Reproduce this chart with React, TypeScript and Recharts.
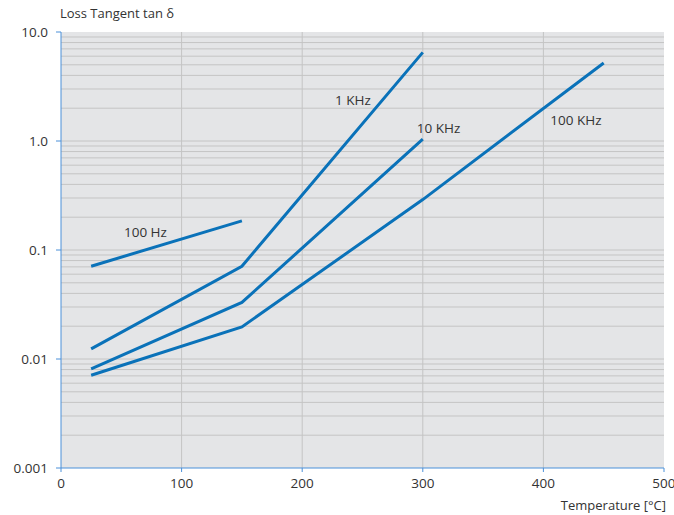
import React from "react";
import {
  CartesianGrid,
  Line,
  LineChart,
  ReferenceDot,
  ReferenceLine,
  XAxis,
  YAxis,
} from "recharts";

// temperature points (°C)
const TEMPS = [25, 150, 300, 450];

// loss tangent per frequency, null where a curve has no value
const HZ_100 = [0.071, 0.185, null, null];
const KHZ_1 = [0.0124, 0.071, 6.5, null];
const KHZ_10 = [0.0081, 0.033, 1.04, null];
const KHZ_100 = [0.0071, 0.0197, 0.29, 5.2];

const X_TICKS = [0, 100, 200, 300, 400, 500];
const Y_TICKS = [0.001, 0.01, 0.1, 1, 10];
const Y_TICK_LABELS = ["0.001", "0.01", "0.1", "1.0", "10.0"];

// curve labels: [text, temperature, tan δ]
const CURVE_LABELS: [string, number, number][] = [
  ["100 Hz", 70, 0.146],
  ["1 KHz", 242, 2.38],
  ["10 KHz", 313, 1.32],
  ["100 KHz", 427, 1.56],
];

const data = TEMPS.map((t, i) => ({
  t,
  hz100: HZ_100[i],
  khz1: KHZ_1[i],
  khz10: KHZ_10[i],
  khz100: KHZ_100[i],
}));

// log grid lines 2..9 × each decade, plus inner decades
const gridY: number[] = [];
[0.001, 0.01, 0.1, 1].forEach((d) => {
  for (let m = 1; m <= 9; m++) {
    if (d === 0.001 && m === 1) continue;
    gridY.push(+(d * m).toPrecision(3));
  }
});
const gridX = [100, 200, 300, 400];

const FONT = "'Open Sans', sans-serif";
const TEXT = "#333";
const AXIS = "#4a90d9";
const LINE = "#0a72b9";
const GRID = "#c4c4c4";

export default function App() {
  return (
    <div style={{ position: "absolute", left: 0, top: 0, width: 674, height: 515, fontFamily: FONT }}>
      <div style={{ position: "absolute", left: 60, top: 4, fontSize: 13, color: TEXT }}>
        Loss Tangent tan δ
      </div>
      <div style={{ position: "absolute", right: 8, top: 496, fontSize: 13, color: TEXT }}>
        Temperature [°C]
      </div>
      <LineChart
        width={674}
        height={515}
        data={data}
        margin={{ top: 32, right: 10, bottom: 17, left: 11 }}
      >
        <CartesianGrid fill="#e4e5e7" horizontal={false} vertical={false} />
        <XAxis
          dataKey="t"
          type="number"
          domain={[0, 500]}
          ticks={X_TICKS}
          height={30}
          tickSize={4}
          tickMargin={6}
          stroke={AXIS}
          tick={{ fill: TEXT, fontSize: 13.5, fontFamily: FONT }}
        />
        <YAxis
          type="number"
          scale="log"
          domain={[0.001, 10]}
          allowDataOverflow
          ticks={Y_TICKS}
          tickFormatter={(v) => Y_TICK_LABELS[Y_TICKS.indexOf(v)] ?? String(v)}
          width={50}
          tickSize={5}
          tickMargin={8}
          stroke={AXIS}
          tick={{ fill: TEXT, fontSize: 13.5, fontFamily: FONT }}
        />
        {gridY.map((v) => (
          <ReferenceLine key={"y" + v} y={v} stroke={GRID} strokeWidth={1} />
        ))}
        {gridX.map((v) => (
          <ReferenceLine key={"x" + v} x={v} stroke={GRID} strokeWidth={1} />
        ))}
        {["hz100", "khz1", "khz10", "khz100"].map((k) => (
          <Line
            key={k}
            dataKey={k}
            stroke={LINE}
            strokeWidth={3}
            dot={false}
            connectNulls={false}
            isAnimationActive={false}
          />
        ))}
        {CURVE_LABELS.map(([txt, x, y]) => (
          <ReferenceDot
            key={txt}
            x={x}
            y={y}
            r={0}
            fill="none"
            stroke="none"
            label={{ value: txt, position: "center", fill: TEXT, fontSize: 13.5, fontFamily: FONT }}
          />
        ))}
      </LineChart>
    </div>
  );
}
